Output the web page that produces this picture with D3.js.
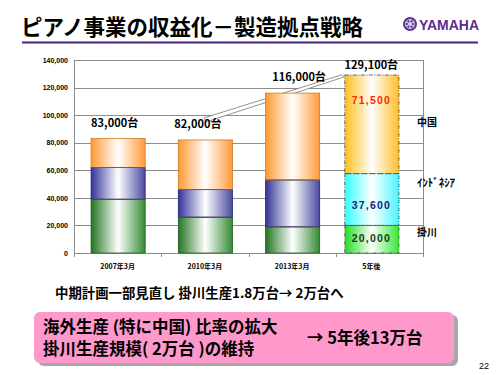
<!DOCTYPE html>
<html><head><meta charset="utf-8">
<script src="https://cdn.jsdelivr.net/npm/d3@7"></script>
<style>
body{margin:0;background:#fff;}
svg{display:block;}
text{font-family:"Liberation Sans","Noto Sans CJK JP",Arial,sans-serif;}
.jp{font-family:"Noto Sans CJK JP","Liberation Sans",sans-serif;}
</style></head>
<body>
<script>
const categories = ["2007年3月","2010年3月","2013年3月","5年後"];
const kakegawa = [39000, 26000, 19000, 20000];
const indonesia = [23000, 20000, 34000, 37600];
const china = [21000, 36000, 63000, 71500];
const totals = ["83,000台","82,000台","116,000台","129,100台"];
const yTicks = [0,20000,40000,60000,80000,100000,120000,140000];
const seriesNames = ["掛川","ｲﾝﾄﾞﾈｼｱ","中国"];
const forecastLabels = ["20,000","37,600","71,500"];

const W=500,H=375;
const svg=d3.select("body").append("svg").attr("width",W).attr("height",H);
const defs=svg.append("defs");

// Title
svg.append("text").attr("class","jp").attr("x",21).attr("y",35)
  .attr("font-size",21.5).attr("font-weight","bold").attr("fill","#000")
  .text("ピアノ事業の収益化－製造拠点戦略");
svg.append("line").attr("x1",22).attr("x2",478).attr("y1",42.5).attr("y2",42.5)
  .attr("stroke","#4a2479").attr("stroke-width",2);
// Logo
const lg=svg.append("g").attr("transform","translate(410,24)");
lg.append("circle").attr("r",7).attr("fill","#5a3590");
lg.append("circle").attr("r",4.5).attr("fill","none").attr("stroke","#c9b8e0").attr("stroke-width",1);
for(let i=0;i<3;i++){
  lg.append("line").attr("x1",0).attr("y1",-5).attr("x2",0).attr("y2",5)
   .attr("stroke","#e8def5").attr("stroke-width",1.2).attr("transform",`rotate(${i*60})`);
}
svg.append("text").attr("x",419).attr("y",30).attr("font-size",15).attr("font-weight","bold")
  .attr("fill","#5a2d8c").attr("font-family","'Liberation Sans Narrow','Liberation Sans',sans-serif")
  .attr("textLength",60).attr("lengthAdjust","spacingAndGlyphs").text("YAMAHA");

// Chart
const x0=74,x1=423,yTop=60,yBot=253;
const x=d3.scaleBand().domain(categories).range([x0,x1]).paddingInner(0.38).paddingOuter(0.19);
const y=d3.scaleLinear().domain([0,140000]).range([yBot,yTop]);
const forecastShift = -8;
const bx = (c,i)=> x(c) + (i===3?forecastShift:0);

// gridlines
svg.append("g").selectAll("line").data(yTicks).join("line")
  .attr("x1",x0).attr("x2",x1).attr("y1",d=>Math.round(y(d))+0.5).attr("y2",d=>Math.round(y(d))+0.5)
  .attr("stroke","#8c8c8c").attr("stroke-width",1);
svg.append("line").attr("x1",x0+0.5).attr("x2",x0+0.5).attr("y1",yTop).attr("y2",yBot+0.5).attr("stroke","#8c8c8c");
svg.append("line").attr("x1",x1+0.5).attr("x2",x1+0.5).attr("y1",yTop).attr("y2",yBot+0.5).attr("stroke","#8c8c8c");
// y axis labels
const yAxis=d3.axisLeft(y).tickValues(yTicks).tickSize(0).tickPadding(6).tickFormat(d3.format(","));
const ya=svg.append("g").attr("transform",`translate(${x0},0)`).call(yAxis);
ya.select(".domain").remove();
ya.selectAll("text").attr("font-size",7).attr("font-weight","bold").attr("fill","#000");
// x axis
const xa=svg.append("g").attr("transform",`translate(0,${yBot})`);
const bounds=d3.range(categories.length+1).map(i=>x0+i*x.step()*1);
xa.selectAll("line").data(bounds).join("line")
  .attr("x1",d=>Math.round(d)+0.5).attr("x2",d=>Math.round(d)+0.5).attr("y1",0).attr("y2",4).attr("stroke","#8c8c8c");
xa.selectAll("text").data(categories).join("text")
  .attr("x",(d,i)=>bx(d,i)+x.bandwidth()/2).attr("y",16).attr("text-anchor","middle")
  .attr("font-size",7).attr("font-weight","bold").attr("class","jp").text(d=>d);

// callout (behind bars)
{
  const sx = bx(categories[1],1)+x.bandwidth()/2, sy = y(96500);
  const ex = bx(categories[3],3), ey = y(127000);
  svg.append("path").attr("d",`M${sx-1},${sy-2}L${ex-3},${ey-3}L${ex},${ey-1}L${sx+1},${sy+2}Z`)
    .attr("fill","#fff").attr("stroke","#777").attr("stroke-width",0.8);
}

// gradients
function grad(id,c,edge){
  const g=defs.append("linearGradient").attr("id",id).attr("x1","0").attr("x2","1").attr("y1","0").attr("y2","0");
  g.append("stop").attr("offset","0%").attr("stop-color",c);
  g.append("stop").attr("offset","50%").attr("stop-color","#fff");
  g.append("stop").attr("offset","100%").attr("stop-color",edge||c);
}
grad("gG","#237523","#358a35");
grad("gB","#333399","#4a4aa0");
grad("gO","#ff9933","#ff9a3a");
grad("fO","#ffbf1f","#ffbf2a");
grad("fC","#33ffff","#4cf5ff");
grad("fG","#22dd22","#33e833");

const fills=[["url(#gG)","url(#gB)","url(#gO)"],["url(#fG)","url(#fC)","url(#fO)"]];
const strokes=["#1f5f1f","#222277","#d07a20"];
const data=categories.map((c,i)=>{
  const v=[kakegawa[i],indonesia[i],china[i]];
  let acc=0;
  return v.map((val,k)=>{const s={c,i,k,y0:acc,y1:acc+val};acc+=val;return s;});
}).flat();

const bars=svg.append("g");
bars.selectAll("rect").data(data).join("rect")
  .attr("x",d=>bx(d.c,d.i)+0.5).attr("width",x.bandwidth())
  .attr("y",d=>y(d.y1)).attr("height",d=>y(d.y0)-y(d.y1))
  .attr("fill",d=>fills[d.i===3?1:0][d.k])
  .attr("stroke",d=>d.i===3?"none":strokes[d.k]).attr("stroke-width",0.8);
bars.selectAll("line.sep").data(data.filter(d=>d.i<3&&d.k>0)).join("line")
  .attr("x1",d=>bx(d.c,d.i)+0.5).attr("x2",d=>bx(d.c,d.i)+0.5+x.bandwidth())
  .attr("y1",d=>y(d.y0)).attr("y2",d=>y(d.y0)).attr("stroke","#555").attr("stroke-width",0.8);
bars.selectAll("rect.fc").data(data.filter(d=>d.i===3)).join("rect")
  .attr("x",d=>bx(d.c,d.i)+0.5).attr("width",x.bandwidth())
  .attr("y",d=>y(d.y1)).attr("height",d=>y(d.y0)-y(d.y1))
  .attr("fill","none").attr("stroke","#444").attr("stroke-width",0.8).attr("stroke-dasharray","4,1.5,1,1.5");

// total labels
const totOffsets=[12,12,12,6];
svg.selectAll("text.tot").data(categories).join("text")
  .attr("x",(d,i)=>bx(d,i)+x.bandwidth()/2-(i===0?3:(i===1?7:(i===2?-7:0))))
  .attr("y",(d,i)=>y(kakegawa[i]+indonesia[i]+china[i])-totOffsets[i])
  .attr("text-anchor","middle").attr("font-size",11).attr("font-weight","bold").attr("class","jp")
  .text((d,i)=>totals[i]);

// forecast value labels
const fcCols=["#1a3a1a","#1a1a80","#ff2a00"];
const fcVals=[kakegawa[3],indonesia[3],china[3]];
svg.selectAll("text.fcv").data(forecastLabels).join("text")
  .attr("x",bx(categories[3],3)+x.bandwidth()/2).attr("text-anchor","middle")
  .attr("y",(d,k)=>{const b=fcVals.slice(0,k).reduce((a,b)=>a+b,0);
     const pos=[b+fcVals[k]*0.55,b+fcVals[k]*0.4,b+fcVals[k]*0.75][k]; return y(pos)+4;})
  .attr("font-size",10.5).attr("font-weight","bold").attr("letter-spacing",1.2)
  .attr("fill",(d,k)=>fcCols[k]).text(d=>d);

// series labels at right
const lblY=[y(12000),y(48000),y(92000)];
svg.selectAll("text.ser").data(seriesNames).join("text")
  .attr("x",417).attr("y",(d,k)=>lblY[k]).attr("font-size",10)
  .attr("font-weight","bold").attr("class","jp")
  .each(function(d,k){ if(k===1) d3.select(this).attr("textLength",38).attr("lengthAdjust","spacingAndGlyphs").attr("font-size",11); })
  .text(d=>d);

// Bottom text
svg.append("text").attr("class","jp").attr("x",55).attr("y",298).attr("font-size",13.4)
  .attr("font-weight","bold").text("中期計画一部見直し 掛川生産1.8万台→ 2万台へ");
svg.append("rect").attr("x",38).attr("y",315).attr("width",420).attr("height",51).attr("rx",6)
  .attr("fill","#a8a8a8");
svg.append("rect").attr("x",34).attr("y",312).attr("width",420).attr("height",51).attr("rx",6)
  .attr("fill","#ff99cc");
svg.append("text").attr("class","jp").attr("x",43).attr("y",333).attr("font-size",16.5)
  .attr("font-weight","bold").text("海外生産 (特に中国) 比率の拡大");
svg.append("text").attr("class","jp").attr("x",43).attr("y",355).attr("font-size",16.5)
  .attr("font-weight","bold").text("掛川生産規模( 2万台 )の維持");
svg.append("text").attr("class","jp").attr("x",307).attr("y",344).attr("font-size",16.5)
  .attr("font-weight","bold").text("→ 5年後13万台");
svg.append("text").attr("x",479).attr("y",369).attr("font-size",9).text("22");
</script>
</body></html>
